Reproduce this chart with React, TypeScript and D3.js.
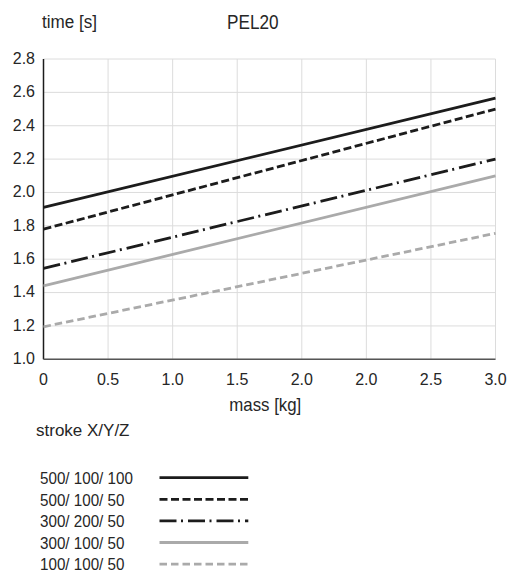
import React from "react";
import * as d3 from "d3";

const xLabels = ["0", "0.5", "1.0", "1.5", "2.0", "2.0", "2.5", "3.0"];
const yTicks = [1.0, 1.2, 1.4, 1.6, 1.8, 2.0, 2.2, 2.4, 2.6, 2.8];
const seriesNames = ["500/ 100/ 100", "500/ 100/ 50", "300/ 200/ 50", "300/ 100/ 50", "100/ 100/ 50"];
const startValues = [1.91, 1.78, 1.545, 1.44, 1.195];
const endValues = [2.565, 2.5, 2.2, 2.1, 1.755];
const colors = ["#1c1c1c", "#1c1c1c", "#1c1c1c", "#aaaaaa", "#aaaaaa"];
const dashes = ["none", "8,3.5", "17,4.5,2,5", "none", "7.5,4"];

export default function App() {
  const W = 509, H = 574;
  const left = 43.5, right = 495.5, top = 59, bottom = 359.3;
  const x = d3.scalePoint<number>().domain(d3.range(xLabels.length)).range([left, right]);
  const y = d3.scaleLinear().domain([1.0, 2.8]).range([bottom, top]);
  const line = d3.line<[number, number]>().x(d => x(d[0])!).y(d => y(d[1]));
  const last = xLabels.length - 1;
  const font = "Liberation Sans, Arial, sans-serif";
  const legY = (i: number) => 477.7 + i * 21.6;
  const txt = "#262626";
  return (
    <svg width={W} height={H} style={{ position: "absolute", left: 0, top: 0 }} fontFamily={font}>
      <rect width={W} height={H} fill="#fff" />
      <text x={42} y={28} fontSize={18} fill={txt} textLength={55} lengthAdjust="spacingAndGlyphs">time [s]</text>
      <text x={227} y={29.3} fontSize={20.5} fill={txt} textLength={51.5} lengthAdjust="spacingAndGlyphs">PEL20</text>
      {yTicks.map(t => (
        <line key={"gy" + t} x1={left} x2={right} y1={y(t)} y2={y(t)} stroke="#dcdcdc" strokeWidth={1} />
      ))}
      {xLabels.map((_, i) => (
        <line key={"gx" + i} x1={x(i)} x2={x(i)} y1={top} y2={bottom} stroke="#dcdcdc" strokeWidth={1} />
      ))}
      {yTicks.map(t => (
        <text key={"ty" + t} x={35} y={y(t)} dy="0.3em" textAnchor="end" fontSize={16} fill={txt}>{t.toFixed(1)}</text>
      ))}
      {xLabels.map((l, i) => (
        <text key={"tx" + i} x={x(i)} y={385} textAnchor="middle" fontSize={16} fill={txt}>{l}</text>
      ))}
      <line x1={left} x2={left} y1={top} y2={bottom} stroke="#1c1c1c" strokeWidth={1.5} />
      <line x1={left} x2={right} y1={bottom} y2={bottom} stroke="#555" strokeWidth={1.5} />
      {seriesNames.map((n, i) => (
        <path key={"l" + i} d={line([[0, startValues[i]], [last, endValues[i]]])!} fill="none"
          stroke={colors[i]} strokeWidth={2.8} strokeDasharray={dashes[i]} />
      ))}
      <text x={229.3} y={410.5} fontSize={18.5} fill={txt} textLength={72} lengthAdjust="spacingAndGlyphs">mass [kg]</text>
      <text x={36} y={435.7} fontSize={16.5} fill={txt} textLength={93.5} lengthAdjust="spacingAndGlyphs">stroke X/Y/Z</text>
      {seriesNames.map((n, i) => (
        <g key={"lg" + i}>
          <text x={0} y={0} fontSize={16} fill={txt} transform={`translate(40,${legY(i) + 6.3}) scale(0.95,1)`}>{n}</text>
          <line x1={159.5} x2={248.3} y1={legY(i)} y2={legY(i)} stroke={colors[i]} strokeWidth={2.8} strokeDasharray={dashes[i]} />
        </g>
      ))}
    </svg>
  );
}
